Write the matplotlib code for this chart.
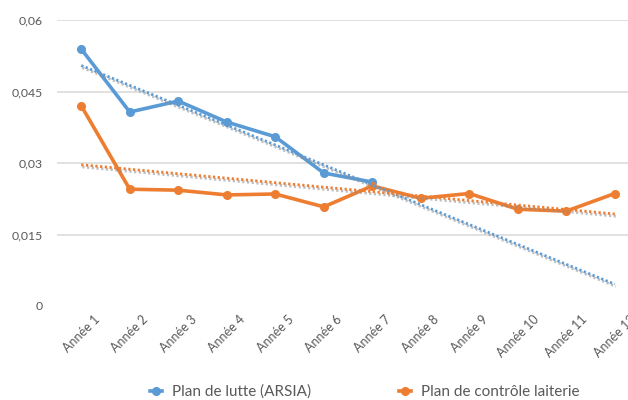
import numpy as np
import matplotlib
matplotlib.use("Agg")
import matplotlib.pyplot as plt
import matplotlib.patheffects as pe
from matplotlib.ticker import FixedLocator

annees = [f"Année {i}" for i in range(1, 13)]
lutte = [0.0539, 0.0407, 0.0430, 0.0386, 0.0355, 0.0279, 0.0260]
laiterie = [0.0420, 0.0245, 0.0243, 0.0233, 0.0235, 0.0208, 0.0252,
            0.0226, 0.0236, 0.0203, 0.0199, 0.0236]
yticks = [0, 0.015, 0.03, 0.045, 0.06]
ytick_labels = ["0", "0,015", "0,03", "0,045", "0,06"]

blue = "#5B9BD5"
orange = "#ED7D31"
txt = "#595959"

plt.rcParams["font.family"] = ["Lato", "DejaVu Sans"]

fig = plt.figure(figsize=(6.28, 4.0), dpi=100)
ax = fig.add_axes([57 / 628, 0.235, 582 / 628, 0.715])

x_all = np.arange(1, 13)
x_l = np.arange(1, len(lutte) + 1)
x_o = np.arange(1, len(laiterie) + 1)

ax.plot(x_l, lutte, color=blue, lw=2.6, marker="o", ms=5.5, zorder=3,
        label="Plan de lutte (ARSIA)")
ax.plot(x_o, laiterie, color=orange, lw=2.6, marker="o", ms=5.5, zorder=3,
        label="Plan de contrôle laiterie")

# linear trend lines (Excel style, dotted with a soft shadow)
shadow = [pe.SimpleLineShadow(offset=(0.8, -1.6), shadow_color="#8c8c8c", alpha=0.55),
          pe.Normal()]
for xs, ys, c in [(x_l, lutte, blue), (x_o, laiterie, orange)]:
    k, b = np.polyfit(xs, ys, 1)
    ax.plot(x_all, k * x_all + b, color=c, lw=2.0, ls=(0, (0.8, 0.9)),
            zorder=4, path_effects=shadow)

ax.set_xlim(0.5, 12.5)
ax.set_ylim(0, 0.06)
ax.set_xticks(x_all)
ax.set_xticklabels(annees, rotation=45, ha="center", va="top",
                   fontsize=9, color=txt)
ax.yaxis.set_major_locator(FixedLocator(yticks))
ax.set_yticklabels(ytick_labels, fontsize=8.8, color=txt)
ax.tick_params(axis="both", length=0)
ax.tick_params(axis="x", pad=5)
ax.tick_params(axis="y", pad=10)
for s in ax.spines.values():
    s.set_visible(False)
ax.grid(axis="y", color="#d9d9d9", lw=1.1)
ax.get_ygridlines()[0].set_visible(False)
ax.set_axisbelow(True)

leg = fig.legend(loc="center", bbox_to_anchor=(0.581, 0.02), ncol=2,
                 frameon=False, fontsize=11, handlelength=0.75,
                 handletextpad=0.65, columnspacing=5.8, markerscale=1.0)
for t in leg.get_texts():
    t.set_color(txt)

fig.savefig("out.png", dpi=100)
